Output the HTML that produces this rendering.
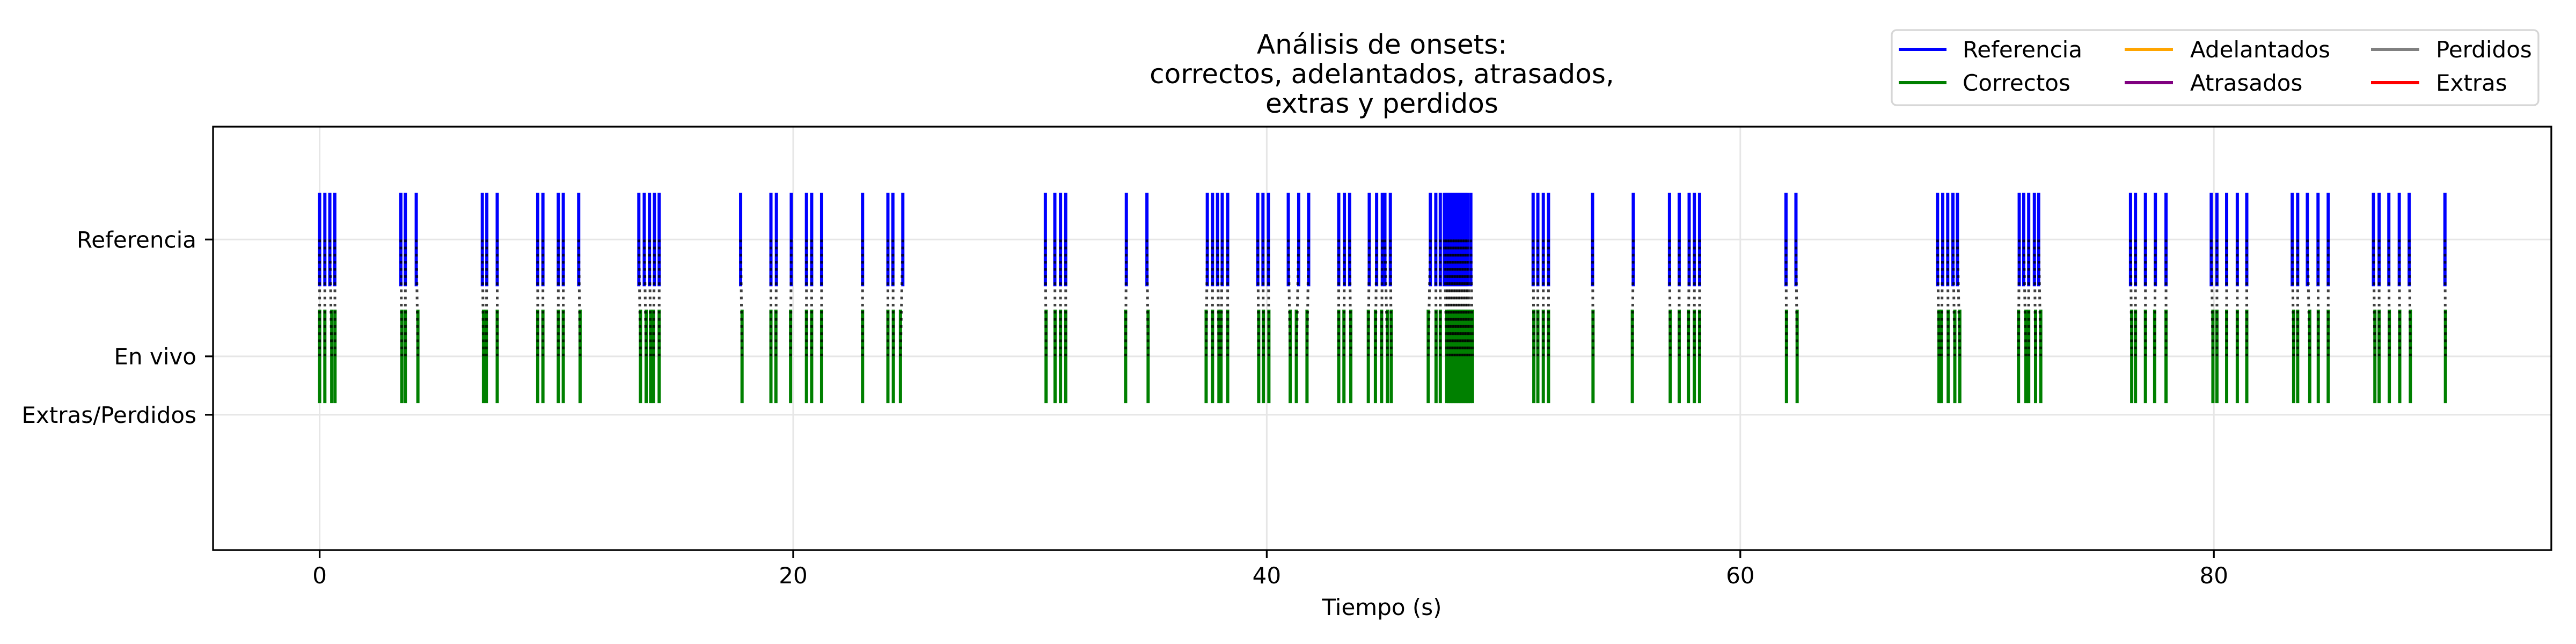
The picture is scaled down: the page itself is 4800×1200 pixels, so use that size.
<!DOCTYPE html>
<html><head><meta charset="utf-8"><style>
html,body{margin:0;padding:0;background:#fff;}
svg{display:block;font-family:"DejaVu Sans","Liberation Sans",sans-serif;}
</style></head><body>
<svg id="chart" width="4800" height="1200" viewBox="0 0 4800 1200" xmlns="http://www.w3.org/2000/svg">
<rect width="4800" height="1200" fill="#fff"/>
<g id="grid"></g>
<g id="marks"></g>
<rect x="397" y="236" width="4357" height="789" fill="none" stroke="#000" stroke-width="3.3"/>
<g id="axes"></g>
<g font-size="50" text-anchor="middle" fill="#000">
<text x="2575" y="100">Análisis de onsets:</text>
<text x="2575" y="155">correctos, adelantados, atrasados,</text>
<text x="2575" y="210">extras y perdidos</text>
</g>
<text x="2575" y="1146" font-size="42" text-anchor="middle">Tiempo (s)</text>
<g font-size="42">
<rect x="3525" y="56" width="1205" height="140" rx="9" fill="#fff" stroke="#d6d6d6" stroke-width="3.3"/>
<g><line x1="3538" x2="3627" y1="92" y2="92" stroke="#0000ff" stroke-width="6"/><text x="3657" y="107">Referencia</text></g>
<g><line x1="3538" x2="3627" y1="154" y2="154" stroke="#008000" stroke-width="6"/><text x="3657" y="169">Correctos</text></g>
<g><line x1="3959" x2="4049" y1="92" y2="92" stroke="#ffa500" stroke-width="6"/><text x="4081" y="107">Adelantados</text></g>
<g><line x1="3959" x2="4049" y1="154" y2="154" stroke="#800080" stroke-width="6"/><text x="4081" y="169">Atrasados</text></g>
<g><line x1="4418" x2="4508" y1="92" y2="92" stroke="#808080" stroke-width="6"/><text x="4539" y="107">Perdidos</text></g>
<g><line x1="4418" x2="4508" y1="154" y2="154" stroke="#ff0000" stroke-width="6"/><text x="4539" y="169">Extras</text></g>
</g>
</svg>
<script>
const refOnsets = [0.00,0.22,0.43,0.64, 3.43,3.62,4.08, 6.87,7.06,7.50, 9.21,9.43,10.08,10.29,10.94, 13.48,13.71,13.93,14.14,14.34, 17.78, 19.06,19.29,19.92, 20.56,20.78,21.20, 22.93, 24.00,24.21,24.63, 30.65,31.05,31.29,31.51, 34.07,34.94, 37.49,37.71,37.92,38.12,38.35, 39.62,39.84,40.07, 40.91,41.35,41.77, 43.04,43.28,43.50, 44.33,44.64,44.88,44.99,45.22, 46.91,47.14,47.33, 47.50,47.57,47.64,47.71,47.78,47.85,47.92,47.99,48.06,48.13,48.20,48.27,48.34,48.41,48.48, 48.62, 51.25,51.45,51.68,51.90, 53.76, 55.48, 57.01,57.42,57.84,58.06,58.28, 61.93,62.35, 68.33,68.55,68.76,68.98,69.17, 71.78,71.97,72.18,72.42,72.60, 76.48,76.69,77.11,77.53,77.98, 79.89,80.13,80.54,80.99,81.39, 83.31,83.54,83.95,84.40,84.83, 86.74,86.98,87.39,87.83,88.25, 89.76];
const liveOnsets = [0.00,0.22,0.51,0.65, 3.47,3.62,4.15, 6.92,7.04,7.50, 9.21,9.43,10.08,10.29,11.00, 13.55,13.79,13.98,14.10,14.34, 17.84, 19.06,19.27,19.89, 20.56,20.78,21.20, 22.93, 24.00,24.23,24.53, 30.68,31.06,31.29,31.51, 34.04,34.99, 37.44,37.71,37.98,38.07,38.35, 39.66,39.86,40.09, 40.99,41.25,41.70, 43.04,43.26,43.55, 44.29,44.59,44.85,45.10,45.26, 46.82,47.15,47.33, 47.60,47.68,47.75,47.82,47.89,47.96,48.03,48.10,48.17,48.24,48.31,48.38,48.45,48.52,48.59, 48.69, 51.28,51.45,51.68,51.90, 53.78, 55.44, 57.04,57.42,57.81,58.06,58.28, 61.95,62.40, 68.39,68.49,68.78,69.06,69.27, 71.75,72.06,72.18,72.47,72.69, 76.53,76.69,77.11,77.50,77.98, 79.96,80.13,80.54,80.99,81.39, 83.37,83.54,84.05,84.41,84.83, 86.80,86.98,87.41,87.85,88.30, 89.78];
const xTicks = [0,20,40,60,80];
const yTickValues = [1,0,-0.5];
const yTickLabels = ["Referencia","En vivo","Extras/Perdidos"];

const NS = "http://www.w3.org/2000/svg";
function xS(t){ return 595.6 + 44.12*t; }
function yS(v){ return 664 - 217.7*v; }
function mk(tag, attrs, parent){
  const e = document.createElementNS(NS, tag);
  for (const k in attrs) e.setAttribute(k, attrs[k]);
  parent.appendChild(e);
  return e;
}
const grid = document.getElementById('grid');
const marks = document.getElementById('marks');
const axes = document.getElementById('axes');

xTicks.forEach(t => {
  const g = mk('line', {x1:xS(t), x2:xS(t), y1:236, y2:1025, stroke:'#e6e6e6', 'stroke-width':3}, grid);
  
  
  const tk = mk('line', {x1:xS(t), x2:xS(t), y1:1025, y2:1040, stroke:'#000', 'stroke-width':3.3}, axes);
  
  
  const lb = mk('text', {x:xS(t), y:1087, 'font-size':42, 'text-anchor':'middle'}, axes);
  lb.textContent = String(t);
  
  
});
yTickValues.forEach((v, i) => {
  const g = mk('line', {x1:397, x2:4754, y1:yS(v), y2:yS(v), stroke:'#e6e6e6', 'stroke-width':3}, grid);
  
  
  const tk = mk('line', {x1:382, x2:397, y1:yS(v), y2:yS(v), stroke:'#000', 'stroke-width':3.3}, axes);
  
  
  const lb = mk('text', {x:366, y:yS(v)+15, 'font-size':42, 'text-anchor':'end'}, axes);
  lb.textContent = yTickLabels[i];
  
  
});
refOnsets.forEach(t => {
  const l = mk('line', {x1:xS(t), x2:xS(t), y1:yS(1.4), y2:yS(0.6), stroke:'#0000ff', 'stroke-width':6}, marks);
  
  
});
liveOnsets.forEach(t => {
  const l = mk('line', {x1:xS(t), x2:xS(t), y1:yS(0.4), y2:yS(-0.4), stroke:'#008000', 'stroke-width':6}, marks);
  
  
});
const n = Math.min(refOnsets.length, liveOnsets.length);
for (let i = 0; i < n; i++) {
  const l = mk('line', {x1:xS(refOnsets[i]), x2:xS(liveOnsets[i]), y1:yS(1), y2:yS(0), stroke:'rgba(0,0,0,0.75)', 'stroke-width':5, 'stroke-dasharray':'5 8.3'}, marks);
  
  
}
</script>
</body></html>
